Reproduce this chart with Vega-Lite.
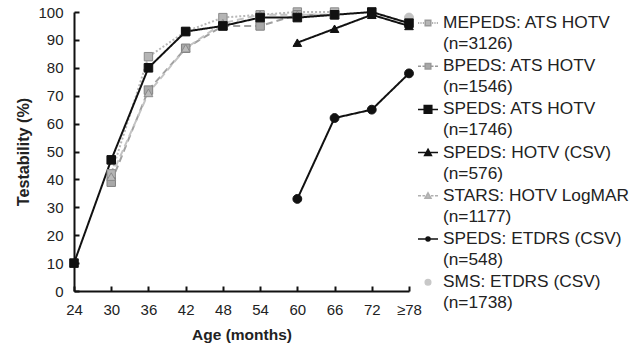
{
  "$schema": "https://vega.github.io/schema/vega-lite/v6.json",
  "width": 335,
  "height": 279,
  "autosize": "none",
  "padding": {"left": 74, "top": 12, "right": 220, "bottom": 56},
  "background": "white",
  "config": {
    "font": "Liberation Sans",
    "view": {"stroke": null},
    "style": {"guide-label": {"lineHeight": 21}},
    "axis": {
      "domainColor": "#111", "domainWidth": 2, "tickColor": "#111", "tickWidth": 2,
      "tickSize": -5, "labelPadding": 16, "labelFontSize": 15, "labelColor": "#222",
      "titleFontSize": 15.5, "titleFontWeight": "bold", "titleColor": "#222", "grid": false
    }
  },
  "data": {
    "values": [
      {"series": "MEPEDS: ATS HOTV|(n=3126)", "age": 30, "value": 42},
      {"series": "MEPEDS: ATS HOTV|(n=3126)", "age": 36, "value": 84},
      {"series": "MEPEDS: ATS HOTV|(n=3126)", "age": 42, "value": 93},
      {"series": "MEPEDS: ATS HOTV|(n=3126)", "age": 48, "value": 98},
      {"series": "MEPEDS: ATS HOTV|(n=3126)", "age": 54, "value": 99},
      {"series": "MEPEDS: ATS HOTV|(n=3126)", "age": 60, "value": 100},
      {"series": "MEPEDS: ATS HOTV|(n=3126)", "age": 66, "value": 100},
      {"series": "BPEDS: ATS HOTV|(n=1546)", "age": 30, "value": 39},
      {"series": "BPEDS: ATS HOTV|(n=1546)", "age": 36, "value": 72},
      {"series": "BPEDS: ATS HOTV|(n=1546)", "age": 42, "value": 87},
      {"series": "BPEDS: ATS HOTV|(n=1546)", "age": 48, "value": 95},
      {"series": "BPEDS: ATS HOTV|(n=1546)", "age": 54, "value": 95},
      {"series": "BPEDS: ATS HOTV|(n=1546)", "age": 60, "value": 99},
      {"series": "BPEDS: ATS HOTV|(n=1546)", "age": 66, "value": 99},
      {"series": "STARS: HOTV LogMAR|(n=1177)", "age": 30, "value": 41},
      {"series": "STARS: HOTV LogMAR|(n=1177)", "age": 36, "value": 71},
      {"series": "STARS: HOTV LogMAR|(n=1177)", "age": 42, "value": 87},
      {"series": "STARS: HOTV LogMAR|(n=1177)", "age": 48, "value": 96},
      {"series": "STARS: HOTV LogMAR|(n=1177)", "age": 54, "value": 99},
      {"series": "STARS: HOTV LogMAR|(n=1177)", "age": 60, "value": 99},
      {"series": "STARS: HOTV LogMAR|(n=1177)", "age": 66, "value": 99},
      {"series": "SMS: ETDRS (CSV)|(n=1738)", "age": 78, "value": 98},
      {"series": "SPEDS: ATS HOTV|(n=1746)", "age": 24, "value": 10},
      {"series": "SPEDS: ATS HOTV|(n=1746)", "age": 30, "value": 47},
      {"series": "SPEDS: ATS HOTV|(n=1746)", "age": 36, "value": 80},
      {"series": "SPEDS: ATS HOTV|(n=1746)", "age": 42, "value": 93},
      {"series": "SPEDS: ATS HOTV|(n=1746)", "age": 48, "value": 95},
      {"series": "SPEDS: ATS HOTV|(n=1746)", "age": 54, "value": 98},
      {"series": "SPEDS: ATS HOTV|(n=1746)", "age": 60, "value": 98},
      {"series": "SPEDS: ATS HOTV|(n=1746)", "age": 66, "value": 99},
      {"series": "SPEDS: ATS HOTV|(n=1746)", "age": 72, "value": 100},
      {"series": "SPEDS: ATS HOTV|(n=1746)", "age": 78, "value": 96},
      {"series": "SPEDS: HOTV (CSV)|(n=576)", "age": 60, "value": 89},
      {"series": "SPEDS: HOTV (CSV)|(n=576)", "age": 66, "value": 94},
      {"series": "SPEDS: HOTV (CSV)|(n=576)", "age": 72, "value": 99},
      {"series": "SPEDS: HOTV (CSV)|(n=576)", "age": 78, "value": 95},
      {"series": "SPEDS: ETDRS (CSV)|(n=548)", "age": 60, "value": 33},
      {"series": "SPEDS: ETDRS (CSV)|(n=548)", "age": 66, "value": 62},
      {"series": "SPEDS: ETDRS (CSV)|(n=548)", "age": 72, "value": 65},
      {"series": "SPEDS: ETDRS (CSV)|(n=548)", "age": 78, "value": 78}
    ]
  },
  "encoding": {
    "x": {
      "field": "age", "type": "quantitative",
      "scale": {"domain": [24, 78], "nice": false, "zero": false},
      "axis": {
        "title": "Age (months)", "values": [24, 30, 36, 42, 48, 54, 60, 66, 72, 78],
        "labelExpr": "datum.value == 78 ? '≥78' : datum.label", "titlePadding": 10, "labelFlush": false
      }
    },
    "y": {
      "field": "value", "type": "quantitative",
      "scale": {"domain": [0, 100], "nice": false},
      "axis": {"title": "Testability (%)", "titleFontSize": 16.2, "values": [0,10,20,30,40,50,60,70,80,90,100], "titlePadding": 6}
    }
  },
  "layer": [
    {
      "transform": [{"filter": "datum.series != 'SMS: ETDRS (CSV)|(n=1738)'"}],
      "mark": {"type": "line", "strokeWidth": 2},
      "encoding": {
        "stroke": {
          "field": "series", "type": "nominal", "legend": null,
          "scale": {
            "domain": ["MEPEDS: ATS HOTV|(n=3126)", "BPEDS: ATS HOTV|(n=1546)", "SPEDS: ATS HOTV|(n=1746)", "SPEDS: HOTV (CSV)|(n=576)", "STARS: HOTV LogMAR|(n=1177)", "SPEDS: ETDRS (CSV)|(n=548)"],
            "range": ["#b8b8b8", "#a0a0a0", "#111111", "#111111", "#c4c4c4", "#111111"]
          }
        },
        "strokeDash": {
          "field": "series", "type": "nominal", "legend": null,
          "scale": {
            "domain": ["MEPEDS: ATS HOTV|(n=3126)", "BPEDS: ATS HOTV|(n=1546)", "SPEDS: ATS HOTV|(n=1746)", "SPEDS: HOTV (CSV)|(n=576)", "STARS: HOTV LogMAR|(n=1177)", "SPEDS: ETDRS (CSV)|(n=548)"],
            "range": [[2, 2], [7, 4], [1, 0], [1, 0], [7, 4], [1, 0]]
          }
        }
      }
    },
    {
      "mark": {"type": "point", "filled": true, "strokeWidth": 1, "opacity": 1},
      "encoding": {
        "shape": {
          "field": "series", "type": "nominal", "legend": null,
          "scale": {
            "domain": ["MEPEDS: ATS HOTV|(n=3126)", "BPEDS: ATS HOTV|(n=1546)", "SPEDS: ATS HOTV|(n=1746)", "SPEDS: HOTV (CSV)|(n=576)", "STARS: HOTV LogMAR|(n=1177)", "SPEDS: ETDRS (CSV)|(n=548)", "SMS: ETDRS (CSV)|(n=1738)"],
            "range": ["square", "square", "square", "triangle-up", "triangle-up", "circle", "circle"]
          }
        },
        "fill": {
          "field": "series", "type": "nominal", "legend": null,
          "scale": {
            "domain": ["MEPEDS: ATS HOTV|(n=3126)", "BPEDS: ATS HOTV|(n=1546)", "SPEDS: ATS HOTV|(n=1746)", "SPEDS: HOTV (CSV)|(n=576)", "STARS: HOTV LogMAR|(n=1177)", "SPEDS: ETDRS (CSV)|(n=548)", "SMS: ETDRS (CSV)|(n=1738)"],
            "range": ["#b5b5b5", "#a8a8a8", "#111111", "#111111", "#bbbbbb", "#111111", "#c2c2c2"]
          }
        },
        "stroke": {
          "field": "series", "type": "nominal", "legend": null,
          "scale": {
            "domain": ["MEPEDS: ATS HOTV|(n=3126)", "BPEDS: ATS HOTV|(n=1546)", "SPEDS: ATS HOTV|(n=1746)", "SPEDS: HOTV (CSV)|(n=576)", "STARS: HOTV LogMAR|(n=1177)", "SPEDS: ETDRS (CSV)|(n=548)", "SMS: ETDRS (CSV)|(n=1738)"],
            "range": ["#8a8a8a", "#808080", "#111111", "#111111", "#8a8a8a", "#111111", "#c2c2c2"]
          }
        },
        "size": {
          "field": "series", "type": "nominal", "legend": null,
          "scale": {
            "domain": ["MEPEDS: ATS HOTV|(n=3126)", "BPEDS: ATS HOTV|(n=1546)", "SPEDS: ATS HOTV|(n=1746)", "SPEDS: HOTV (CSV)|(n=576)", "STARS: HOTV LogMAR|(n=1177)", "SPEDS: ETDRS (CSV)|(n=548)", "SMS: ETDRS (CSV)|(n=1738)"],
            "range": [70, 80, 100, 64, 80, 25, 81]
          }
        }
      }
    },
    {
      "mark": {"type": "point", "filled": true, "opacity": 0, "strokeWidth": 1.5},
      "encoding": {
        "shape": {
          "field": "series", "type": "nominal",
          "scale": {
            "domain": ["MEPEDS: ATS HOTV|(n=3126)", "BPEDS: ATS HOTV|(n=1546)", "SPEDS: ATS HOTV|(n=1746)", "SPEDS: HOTV (CSV)|(n=576)", "STARS: HOTV LogMAR|(n=1177)", "SPEDS: ETDRS (CSV)|(n=548)", "SMS: ETDRS (CSV)|(n=1738)"],
            "range": [
              "M-1,0H-0.88M-0.76,0H-0.64M-0.52,0H-0.4M0.4,0H0.52M0.64,0H0.76M0.88,0H1M-0.28,-0.28H0.28V0.28H-0.28Z",
              "M-1,0H-0.7M-0.55,0H-0.3M0.3,0H0.55M0.7,0H1M-0.28,-0.28H0.28V0.28H-0.28Z",
              "M-1,0H1M-0.38,-0.38H0.38V0.38H-0.38Z",
              "M-1,0H1M0,-0.34L0.34,0.28H-0.34Z",
              "M-1,0H-0.7M-0.55,0H-0.3M0.3,0H0.55M0.7,0H1M0,-0.3L0.3,0.25H-0.3Z",
              "M-1,0H1M0.2,0A0.2,0.2,0,1,1,-0.2,0A0.2,0.2,0,1,1,0.2,0Z",
              "M0.28,0A0.28,0.28,0,1,1,-0.28,0A0.28,0.28,0,1,1,0.28,0Z"
            ]
          },
          "legend": {
            "title": null, "orient": "right", "offset": 4, "padding": 0,
            "symbolSize": 400, "symbolStrokeWidth": 1.5, "symbolOpacity": 1,
            "labelFontSize": 17.3, "labelColor": "#222", "labelLimit": 300, "labelOffset": 4,
            "labelBaseline": "middle", "rowPadding": 2.2,
            "labelExpr": "split(datum.label, '|')"
          }
        },
        "fill": {
          "field": "series", "type": "nominal",
          "scale": {
            "domain": ["MEPEDS: ATS HOTV|(n=3126)", "BPEDS: ATS HOTV|(n=1546)", "SPEDS: ATS HOTV|(n=1746)", "SPEDS: HOTV (CSV)|(n=576)", "STARS: HOTV LogMAR|(n=1177)", "SPEDS: ETDRS (CSV)|(n=548)", "SMS: ETDRS (CSV)|(n=1738)"],
            "range": ["#b5b5b5", "#a8a8a8", "#111111", "#111111", "#bbbbbb", "#111111", "#c8c8c8"]
          }
        },
        "stroke": {
          "field": "series", "type": "nominal",
          "scale": {
            "domain": ["MEPEDS: ATS HOTV|(n=3126)", "BPEDS: ATS HOTV|(n=1546)", "SPEDS: ATS HOTV|(n=1746)", "SPEDS: HOTV (CSV)|(n=576)", "STARS: HOTV LogMAR|(n=1177)", "SPEDS: ETDRS (CSV)|(n=548)", "SMS: ETDRS (CSV)|(n=1738)"],
            "range": ["#9a9a9a", "#999999", "#111111", "#111111", "#b0b0b0", "#111111", "#c8c8c8"]
          }
        }
      }
    }
  ],
  "resolve": {
    "scale": {"shape": "independent", "fill": "independent", "stroke": "independent", "size": "independent", "strokeDash": "independent"},
    "legend": {"shape": "independent", "fill": "independent", "stroke": "independent"}
  }
}
